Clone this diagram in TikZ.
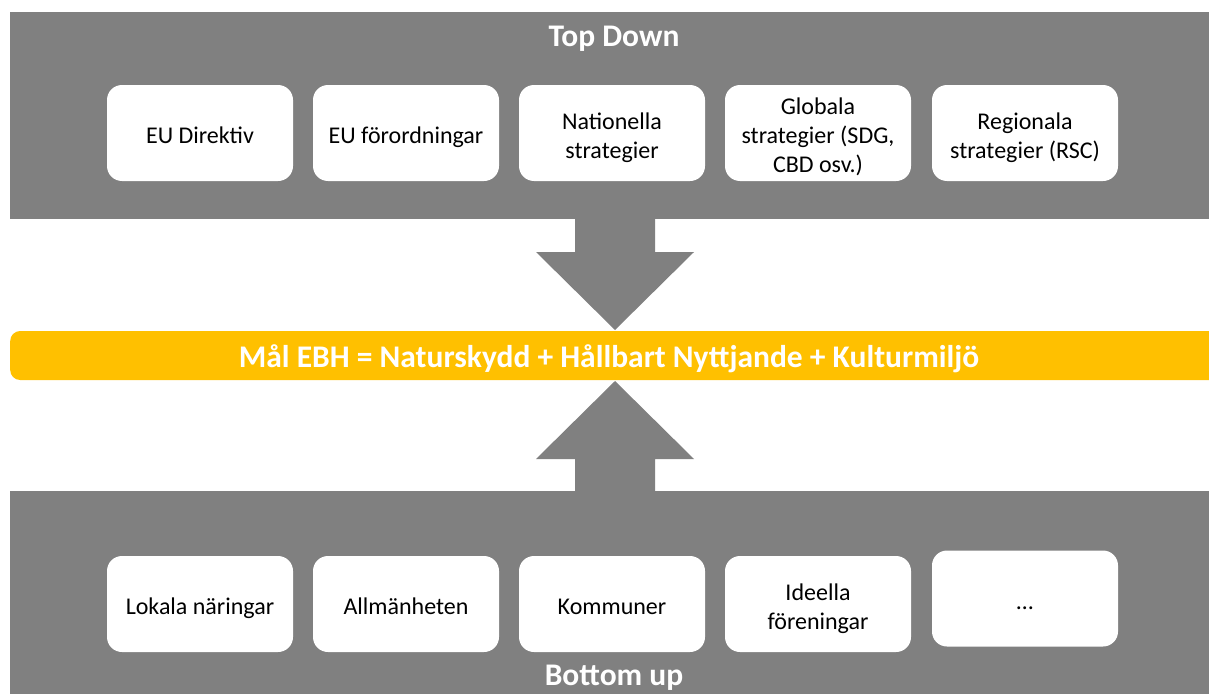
\documentclass[tikz,border=0pt]{standalone}
\usepackage{fontspec}
\setmainfont{Carlito}
\definecolor{bandgray}{HTML}{808080}
\definecolor{goalyellow}{HTML}{FFC000}
\begin{document}
\begin{tikzpicture}[x=1pt,y=-1pt,
  band/.style={fill=bandgray, draw=none},
  itembox/.style={fill=white, draw=none, rounded corners=15pt, minimum width=186pt, minimum height=96pt,
    inner sep=0pt},
  itemtext/.style={inner sep=0pt, align=center, font=\fontsize{24}{29}\selectfont, text=black, yshift=-5pt},
  title/.style={font=\fontsize{31.5}{38}\selectfont\bfseries, text=white, anchor=base},
  bigarrow/.style={fill=bandgray, draw=none}]
\useasboundingbox (0,0) rectangle (1209,693);
\clip (0,0) rectangle (1209,693);
% bands
\fill[band] (10,12) rectangle (1220,219);
\fill[band] (10,491) rectangle (1220,700);
% goal bar
\node[fill=goalyellow, rounded corners=10pt, minimum width=1240pt, minimum height=49pt, inner sep=0pt,
  anchor=west] (goal) at (10,355.5) {};
\node[title] (goaltext) at (609,367) {Mål EBH = Naturskydd + Hållbart Nyttjande + Kulturmiljö};
% titles
\node[title] (top) at (614,47) {Top Down};
\node[title] (bottom) at (614,685) {Bottom up};
% top boxes
\node[itembox] (t1) at (200,133) {};
\node[itembox] (t2) at (406,133) {};
\node[itembox] (t3) at (612,133) {};
\node[itembox] (t4) at (818,133) {};
\node[itembox] (t5) at (1025,133) {};
\node[itemtext] (t1txt) at (t1.center) {EU Direktiv\strut};
\node[itemtext] (t2txt) at (t2.center) {EU förordningar\strut};
\node[itemtext] (t3txt) at (t3.center) {Nationella\strut\\strategier\strut};
\node[itemtext] (t4txt) at (t4.center) {Globala\strut\\strategier (SDG,\strut\\CBD osv.)\strut};
\node[itemtext] (t5txt) at (t5.center) {Regionala\strut\\strategier (RSC)\strut};
% bottom boxes
\node[itembox] (b1) at (200,604) {};
\node[itembox] (b2) at (406,604) {};
\node[itembox] (b3) at (612,604) {};
\node[itembox] (b4) at (818,604) {};
\node[itembox] (b5) at (1025,598.5) {};
\node[itemtext] (b1txt) at (b1.center) {Lokala näringar\strut};
\node[itemtext] (b2txt) at (b2.center) {Allmänheten\strut};
\node[itemtext] (b3txt) at (b3.center) {Kommuner\strut};
\node[itemtext] (b4txt) at (b4.center) {Ideella\strut\\föreningar\strut};
\node[itemtext] (b5txt) at (b5.center) {…\strut};
% arrows
\fill[bigarrow] (575,218) -- (655,218) -- (655,252) -- (694,252) -- (615,330) -- (536,252) -- (575,252) -- cycle;
\fill[bigarrow] (575,492) -- (655,492) -- (655,459) -- (694,459) -- (615,381) -- (536,459) -- (575,459) -- cycle;
\end{tikzpicture}
\end{document}
